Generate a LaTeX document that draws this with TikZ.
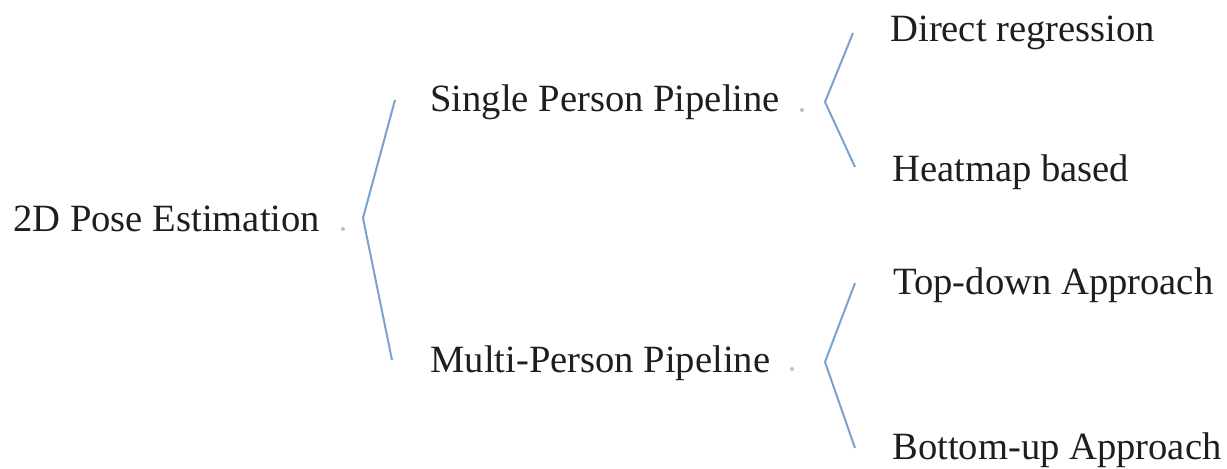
\documentclass[tikz,border=0pt]{standalone}
\usepackage{fontspec}
\setmainfont{Liberation Serif}
\definecolor{bracketblue}{RGB}{122,162,206}
\definecolor{textgray}{RGB}{30,30,30}
\definecolor{dotgray}{RGB}{190,190,190}
\begin{document}
\begin{tikzpicture}[x=0.5pt,y=-0.5pt,
  label/.style={anchor=base west,inner sep=0pt,text=textgray,
    font=\fontsize{19.3pt}{23pt}\selectfont},
  bracket/.style={draw=bracketblue,line width=1pt,line join=miter},
  tinydot/.style={fill=dotgray,circle,inner sep=0pt,minimum size=2pt}]
\useasboundingbox (0,0) rectangle (1227,469);

% labels of the three levels
\node[label] (root)     at (13,232)  {2D Pose Estimation};
\node[label] (single)   at (430,112) {Single Person Pipeline};
\node[label] (multi)    at (430,373) {Multi-Person Pipeline};
\node[label] (direct)   at (890,42)  {Direct regression};
\node[label] (heatmap)  at (892,182) {Heatmap based};
\node[label] (topdown)  at (893,295) {Top-down Approach};
\node[label] (bottomup) at (892,460) {Bottom-up Approach};

% small marks after the parent labels
\node[tinydot] (rootdot)   at (343,229) {};
\node[tinydot] (singledot) at (802,110) {};
\node[tinydot] (multidot)  at (792,369) {};

% bracket corners
\coordinate (b1top) at (395,100);
\coordinate (b1tip) at (363,218);
\coordinate (b1bot) at (392,360);
\coordinate (b2top) at (853,33);
\coordinate (b2tip) at (825,102);
\coordinate (b2bot) at (855,167);
\coordinate (b3top) at (855,283);
\coordinate (b3tip) at (825,362);
\coordinate (b3bot) at (855,448);

\draw[bracket] (b1top) -- (b1tip) -- (b1bot);
\draw[bracket] (b2top) -- (b2tip) -- (b2bot);
\draw[bracket] (b3top) -- (b3tip) -- (b3bot);
\end{tikzpicture}
\end{document}
